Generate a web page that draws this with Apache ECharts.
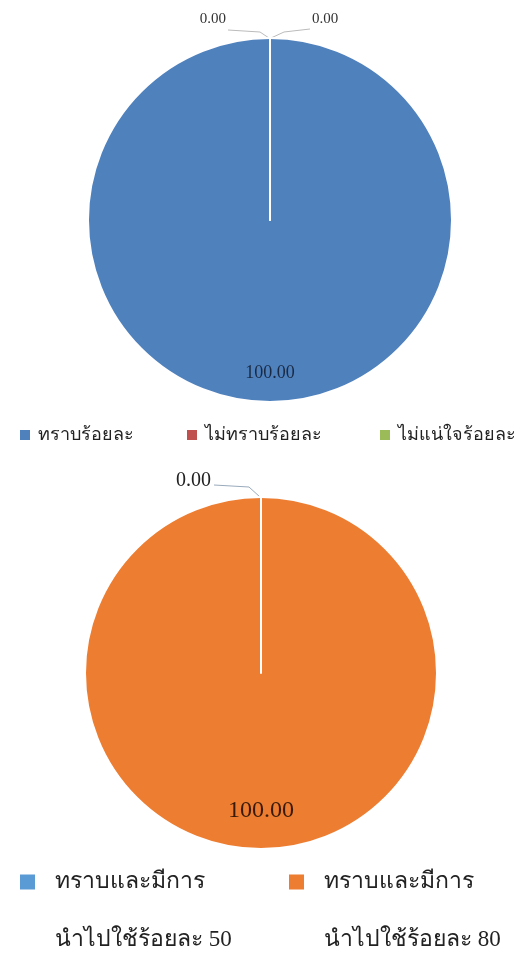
<!DOCTYPE html>
<html><head><meta charset="utf-8">
<script src="https://cdn.jsdelivr.net/npm/echarts@6/dist/echarts.min.js"></script>
<style>html,body{margin:0;padding:0;background:#fff}#c{width:528px;height:956px}</style>
</head><body><div id="c"></div>
<script>
// Chart 1 data
const cats1 = ['ทราบร้อยละ', 'ไม่ทราบร้อยละ', 'ไม่แน่ใจร้อยละ'];
const vals1 = [100, 0, 0];
const colors1 = ['#4F81BD', '#C0504D', '#9BBB59'];
// Chart 2 data
const cats2 = ['ทราบและมีการนำไปใช้ร้อยละ 50', 'ทราบและมีการนำไปใช้ร้อยละ 80'];
const vals2 = [0, 100];
const colors2 = ['#5B9BD5', '#ED7D31'];

const FONT = '"Liberation Serif", "DejaVu Serif", serif';
const P1 = {cx: 270, cy: 220, r: 182};
const P2 = {cx: 261, cy: 673, r: 176};

function fmt(v){ return v.toFixed(2); }

const chart = echarts.init(document.getElementById('c'));

const legend1Left = [18, 185, 378];
const legend2Left = [18, 287];

const legends = [];
cats1.forEach((n, i) => legends.push({
  data: [n], left: legend1Left[i], top: 426, padding: 0, itemWidth: 12, itemHeight: 12, itemGap: 0,
  icon: 'rect', selectedMode: false,
  textStyle: {fontFamily: FONT, fontSize: 18, color: '#222', padding: [0, 0, 0, 2]}
}));
cats2.forEach((n, i) => legends.push({
  data: [n], left: legend2Left[i], top: 795, padding: 0, itemWidth: 17, itemHeight: 17, itemGap: 0,
  icon: 'rect', selectedMode: false,
  formatter: function(s){ const k = s.indexOf('นำไปใช้'); return ' \n' + s.slice(0, k) + '\n' + s.slice(k); },
  textStyle: {fontFamily: FONT, fontSize: 23, color: '#222', lineHeight: 58, padding: [0, 0, 0, 14]}
}));

// chart 2 series data: drawn order puts the zero slice last so its border line shows
const data2 = cats2.map((n, i) => ({name: n, value: vals2[i], itemStyle: {color: colors2[i]},
  label: {show: vals2[i] === 0}, labelLine: {show: vals2[i] === 0}})).reverse();

const option = {
  animation: false,
  color: colors1.concat(colors2),
  legend: legends,
  series: [
    {
      type: 'pie', name: 'p1', center: [P1.cx, P1.cy], radius: [0, P1.r],
      startAngle: 90, clockwise: true, avoidLabelOverlap: false, silent: true,
      itemStyle: {borderColor: '#fff', borderWidth: 2},
      data: cats1.map((n, i) => ({name: n, value: vals1[i], itemStyle: {color: colors1[i]},
        label: {show: vals1[i] === 0}, labelLine: {show: vals1[i] === 0}})),
      label: {show: true, position: 'outside', formatter: p => fmt(p.value),
        fontFamily: FONT, fontSize: 15, color: '#333'},
      labelLine: {show: true, lineStyle: {color: '#bbb', width: 1}},
      labelLayout: function(params){
        if (params.dataIndex === 0) return {};
        const P = P1, topY = P.cy - P.r;
        const w = params.labelRect.width, h = params.labelRect.height;
        if (params.dataIndex === 1) {
          const lx = P.cx - 42;
          return {x: lx - w - 2, y: topY - 19 - h/2, align: 'left', verticalAlign: 'top',
            labelLinePoints: [[P.cx - 1, topY], [P.cx - 10, topY - 6], [lx, topY - 8]]};
        }
        const lx = P.cx + 40;
        return {x: lx + 2, y: topY - 19 - h/2, align: 'left', verticalAlign: 'top',
          labelLinePoints: [[P.cx + 1, topY], [P.cx + 14, topY - 6], [lx, topY - 9]]};
      }
    },
    {
      type: 'pie', name: 'p1lbl', silent: true, center: [P1.cx, P1.cy], radius: [P1.r*0.65, P1.r],
      startAngle: 90, legendHoverLink: false,
      itemStyle: {color: 'rgba(0,0,0,0)', borderWidth: 0},
      data: [{name: cats1[0] + ' ', value: vals1[0]}],
      label: {show: true, position: 'inside', formatter: p => fmt(p.value),
        fontFamily: FONT, fontSize: 18, color: '#1a2a44'},
      labelLine: {show: false}
    },
    {
      type: 'pie', name: 'p2', center: [P2.cx, P2.cy], radius: [0, P2.r],
      startAngle: 90, clockwise: true, avoidLabelOverlap: false, silent: true,
      itemStyle: {borderColor: '#fff', borderWidth: 2},
      data: data2,
      label: {show: true, position: 'outside', formatter: p => fmt(p.value),
        fontFamily: FONT, fontSize: 20, color: '#222'},
      labelLine: {show: true, lineStyle: {color: '#9ab', width: 1}},
      labelLayout: function(params){
        const P = P2, topY = P.cy - P.r;
        const w = params.labelRect.width, h = params.labelRect.height;
        const lx = P.cx - 47;
        return {x: lx - w - 3, y: topY - 16 - h/2, align: 'left', verticalAlign: 'top',
          labelLinePoints: [[P.cx - 1, topY], [P.cx - 12, topY - 10], [lx, topY - 12]]};
      }
    },
    {
      type: 'pie', name: 'p2lbl', silent: true, center: [P2.cx, P2.cy], radius: [P2.r*0.53, P2.r],
      startAngle: 90, legendHoverLink: false,
      itemStyle: {color: 'rgba(0,0,0,0)', borderWidth: 0},
      data: [{name: cats2[1] + ' ', value: vals2[1]}],
      label: {show: true, position: 'inside', formatter: p => fmt(p.value),
        fontFamily: FONT, fontSize: 24, color: '#3a1a08'},
      labelLine: {show: false}
    }
  ]
};
chart.setOption(option);
</script>
</body></html>
